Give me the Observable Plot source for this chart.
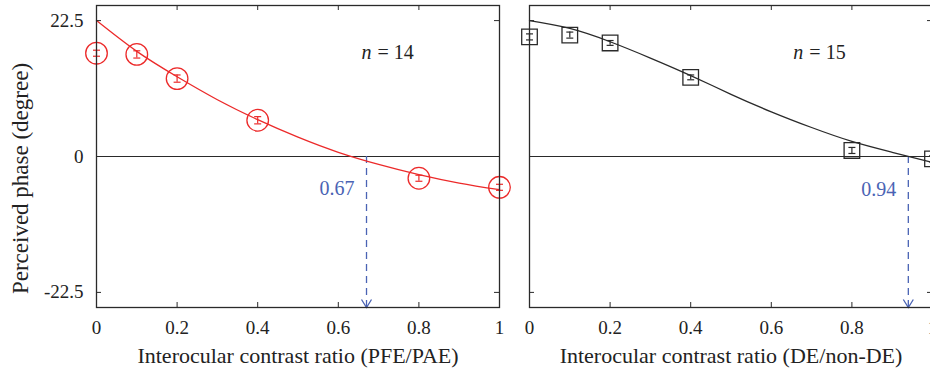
<!DOCTYPE html>
<html><head><meta charset="utf-8">
<script src="https://cdn.jsdelivr.net/npm/d3@7"></script>
<script src="https://cdn.jsdelivr.net/npm/@observablehq/plot@0.6"></script>
<style>
html,body{margin:0;padding:0;background:#fff;overflow:hidden;}
#wrap{position:relative;width:930px;height:372px;overflow:hidden;background:#fff;}
#left{position:absolute;left:0;top:0;width:512px;height:372px;}
#right{position:absolute;left:512px;top:0;width:430px;height:372px;}
#wrap svg{max-width:none;}
</style></head><body><div id="wrap"><div id="left"></div><div id="right"></div></div>
<script>
// ---- data ----
const ratios = [0, 0.1, 0.2, 0.4, 0.8, 1];
const leftPhase = [17.1, 16.9, 12.9, 6.0, -3.6, -5.1];
const leftErr = [0.5, 0.6, 0.6, 0.6, 0.5, 0.5];
const rightPhase = [19.8, 20.1, 18.8, 13.1, 1.0, -0.4];
const rightErr = [0.5, 0.5, 0.4, 0.4, 0.5, 0.5];
const fitX = [0, 0.1, 0.2, 0.3, 0.4, 0.5, 0.6, 0.7, 0.8, 0.9, 1];
const leftFit = [22.5, 17.4, 13.2, 9.4, 6.1, 3.2, 0.7, -1.3, -3.0, -4.4, -5.5];
const rightFit = [22.5, 21.2, 19.0, 16.3, 13.4, 10.3, 7.4, 4.8, 2.5, 0.7, -1.0];
const xTicks = [0, 0.2, 0.4, 0.6, 0.8, 1];
const xTickLabels = ["0", "0.2", "0.4", "0.6", "0.8", "1"];
const yTicks = [-22.5, 0, 22.5];
const yTickLabels = ["-22.5", "0", "22.5"];
const yDomain = [-25, 25];
const thresholds = [0.67, 0.94];
const thresholdLabels = ["0.67", "0.94"];
const thresholdLabelY = [-5.3, -5.5];
const nLabels = ["= 14", "= 15"];
const nPos = [[0.69, 17.2], [0.687, 17.2]];
const xTitles = ["Interocular contrast ratio (PFE/PAE)", "Interocular contrast ratio (DE/non-DE)"];
const yTitle = "Perceived phase (degree)";

const BLUE = "#4a63b4";
const RED = "#ec2a2a";
const DARK = "#2a2a2a";
const FONT = "'Liberation Serif', 'DejaVu Serif', serif";

const capSymbol = {draw(ctx) { ctx.moveTo(-3.5, 0); ctx.lineTo(3.5, 0); }};
const chevron = {draw(ctx) { ctx.moveTo(-5, -8); ctx.lineTo(0, 0); ctx.lineTo(5, -8); }};

function panel(k, cfg) {
  const H = 372, mt = 5, mb = 65;
  const plotH = H - mt - mb;
  const plotW = cfg.width - cfg.marginLeft - cfg.marginRight;
  const data = ratios.map((x, i) => ({x, y: cfg.pts[i], e: cfg.err[i]}));
  const fit = fitX.map((x, i) => ({x, y: cfg.fit[i]}));
  const tl = 5;
  const marks = [
    Plot.ruleY([0], {stroke: DARK, strokeWidth: 1.2}),
    Plot.ruleX([thresholds[k]], {x: d => d, y1: () => 0, y2: () => yDomain[0], stroke: BLUE, strokeDasharray: "7,5", strokeWidth: 1.3}),
    Plot.dot([thresholds[k]], {x: d => d, y: () => yDomain[0], symbol: chevron, stroke: BLUE, fill: "none", strokeWidth: 1.3}),
    Plot.text([thresholdLabels[k]], {x: () => thresholds[k], y: () => thresholdLabelY[k], text: d => d, textAnchor: "end", dx: -12, fill: BLUE, fontSize: 20}),
    Plot.line(fit, {x: "x", y: "y", curve: "natural", stroke: cfg.color, strokeWidth: 1.3}),
    Plot.ruleX(data, {x: "x", y1: d => d.y - d.e, y2: d => d.y + d.e, stroke: cfg.color, strokeWidth: 1.2}),
    Plot.dot(data, {x: "x", y: d => d.y + d.e, symbol: capSymbol, stroke: cfg.color, fill: "none", strokeWidth: 1.2}),
    Plot.dot(data, {x: "x", y: d => d.y - d.e, symbol: capSymbol, stroke: cfg.color, fill: "none", strokeWidth: 1.2}),
    Plot.dot(data, {x: "x", y: "y", symbol: cfg.symbol, r: cfg.r, stroke: cfg.color, fill: "none", strokeWidth: 1.3}),
    Plot.text(["n"], {x: () => nPos[k][0], y: () => nPos[k][1], text: d => d, fontStyle: "italic", textAnchor: "end", dx: -3, fontSize: 20}),
    Plot.text([nLabels[k]], {x: () => nPos[k][0], y: () => nPos[k][1], text: d => d, textAnchor: "start", dx: 3, fontSize: 20}),
    Plot.tickX(xTicks, {x: d => d, insetTop: plotH - tl, stroke: DARK, strokeWidth: 1}),
    Plot.tickX(xTicks, {x: d => d, insetBottom: plotH - tl, stroke: DARK, strokeWidth: 1}),
    Plot.tickY(yTicks, {y: d => d, insetRight: plotW - tl, stroke: DARK, strokeWidth: 1}),
    Plot.tickY(yTicks, {y: d => d, insetLeft: plotW - tl, stroke: DARK, strokeWidth: 1}),
    Plot.frame({stroke: DARK, strokeWidth: 1.3}),
    Plot.text([xTitles[k]], {text: d => d, frameAnchor: "bottom", textAnchor: "middle", dy: 55, fontSize: 22})
  ];
  if (cfg.showY) {
    marks.push(Plot.text([yTitle], {text: d => d, frameAnchor: "left", textAnchor: "middle", rotate: -90, dx: 20 - cfg.marginLeft, dy: 22, fontSize: 23}));
  }
  return Plot.plot({
    width: cfg.width, height: H,
    marginTop: mt, marginBottom: mb, marginLeft: cfg.marginLeft, marginRight: cfg.marginRight,
    style: {fontFamily: FONT, fontSize: "19px", color: "#222", background: "transparent"},
    x: {domain: [0, 1], ticks: xTicks, tickFormat: d => xTickLabels[xTicks.indexOf(d)], tickSize: 0, tickPadding: 13, label: null},
    y: cfg.showY
      ? {domain: yDomain, ticks: yTicks, tickFormat: d => yTickLabels[yTicks.indexOf(d)], tickSize: 0, tickPadding: 13, label: null}
      : {domain: yDomain, axis: null},
    marks
  });
}

document.getElementById("left").append(panel(0, {
  width: 512, marginLeft: 96, marginRight: 13,
  pts: leftPhase, err: leftErr, fit: leftFit, color: RED, symbol: "circle", r: 10.8, showY: true
}));
document.getElementById("right").append(panel(1, {
  width: 430, marginLeft: 17, marginRight: 10,
  pts: rightPhase, err: rightErr, fit: rightFit, color: DARK, symbol: "square", r: 8.8, showY: false
}));
</script></body></html>
